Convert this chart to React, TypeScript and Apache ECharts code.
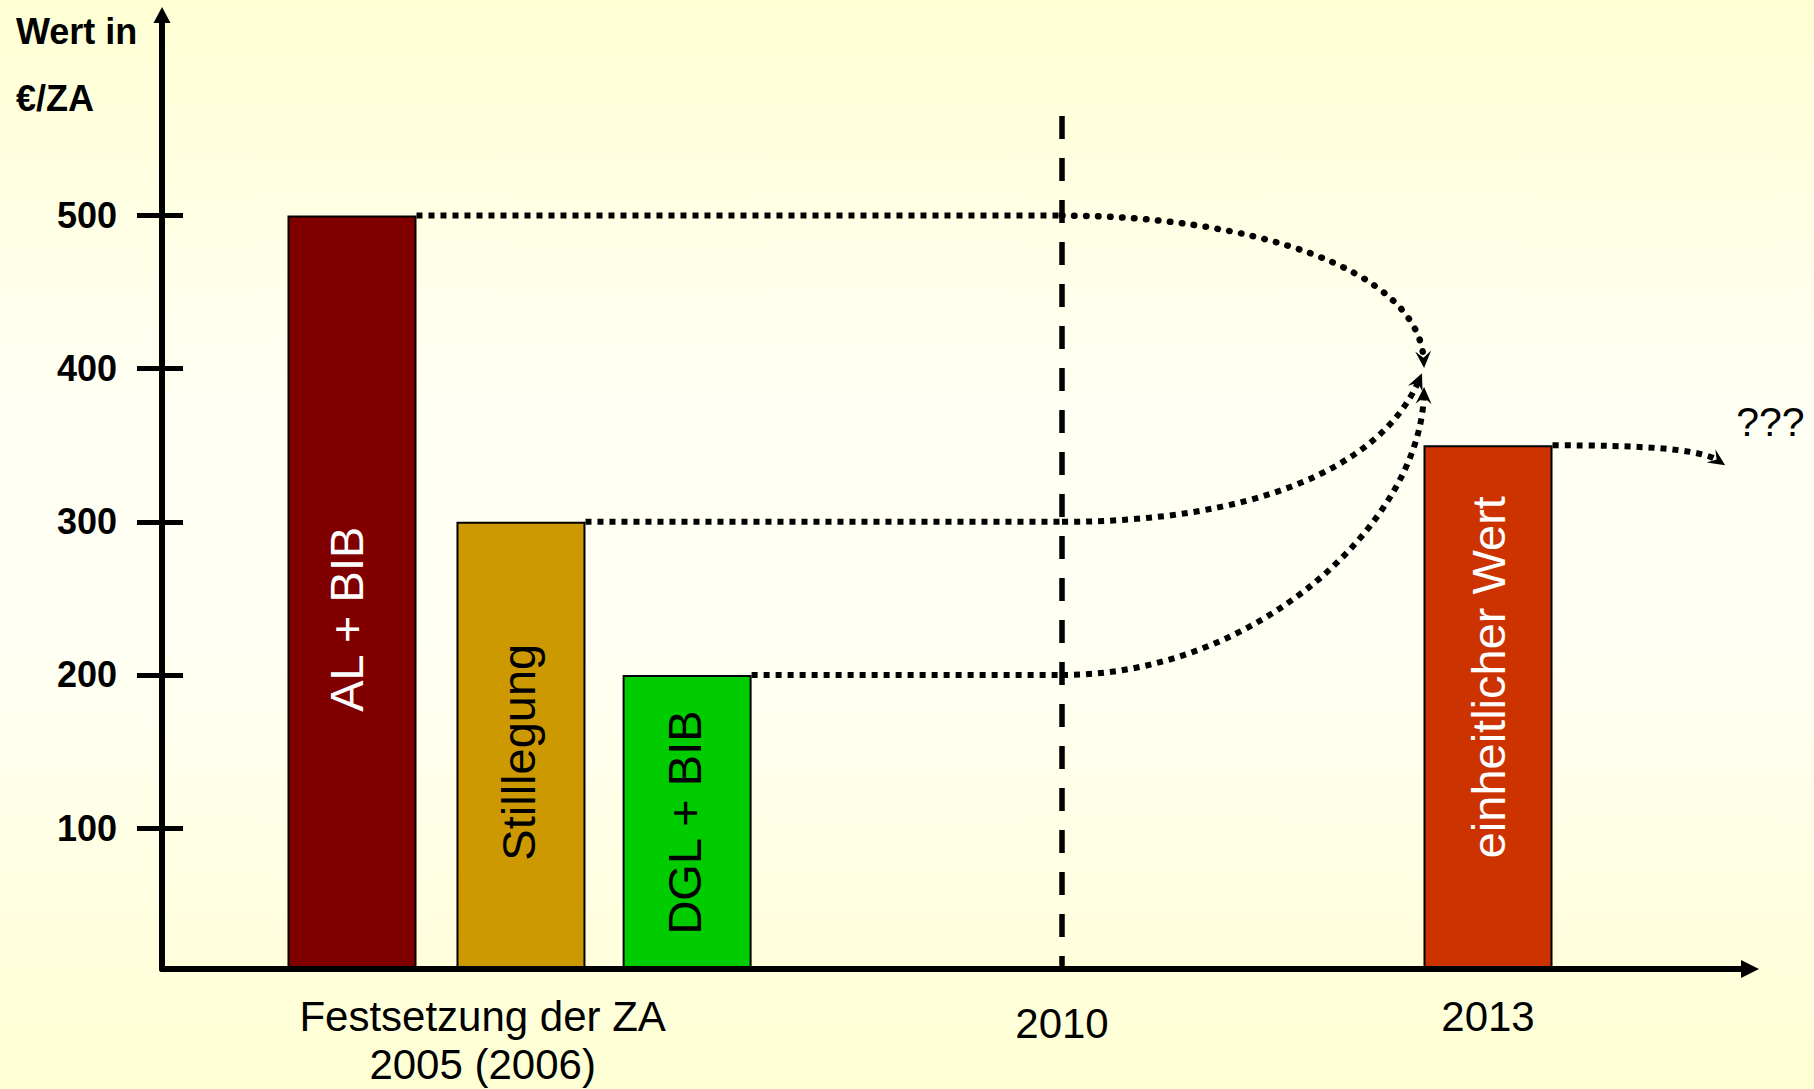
import React, { useEffect, useRef } from "react";
import * as echarts from "echarts";

// ---------- data ----------
const categories = ["AL + BIB", "Stilllegung", "DGL + BIB", "einheitlicher Wert"];
const barValues = [500, 300, 200, 350];
const barPositions = [2005, 2006.19, 2007.36, 2013];
const barColors = ["#800000", "#CC9900", "#00CC00", "#CC3300"];
const barLabelColors = ["#FFFFFF", "#000000", "#000000", "#FFFFFF"];

const yTicks = [100, 200, 300, 400, 500];
const xLabelValues = [2005.92, 2010, 2013];
const xLabelTexts = [["Festsetzung der ZA", "2005 (2006)"], ["2010"], ["2013"]];

const markerYear = 2010;
const markerTop = 565;

// connectors (annotation arrows): from bar, knee at 2010, bezier control points, end
const connectorFrom = [0, 1, 2, 3];
const connectorKnee = [2010, 2010, 2010, null];
const connectorCtrl1 = [[2011.3, 500], [2011.32, 300], [2011.39, 200], [2014.07, 350]];
const connectorCtrl2 = [[2012.51, 466], [2012.24, 334], [2012.52, 301], [2014.49, 348]];
const connectorEnd = [[2012.55, 400.5], [2012.535, 397], [2012.55, 388], [2014.67, 337]];
const connectorCurveDots = ["round", "square", "square", "square"];
const connectorNote = ["", "", "", "???"];

// ---------- layout / style ----------
const FONT = '"Liberation Sans", Arial, Helvetica, sans-serif';
const X_MIN = 2003.662;
const X_MAX = 2014.845;
const Y_MIN = 8;
const Y_MAX = 631;
const BAR_WIDTH = 129;
const barLabelPos = [
  ["45.7%", "53.5%"],
  ["48%", "51.4%"],
  ["48%", "50%"],
  ["50%", "44.2%"],
];

export default function App() {
  const ref = useRef<HTMLDivElement>(null);

  useEffect(() => {
    if (!ref.current) return;
    const chart = echarts.init(ref.current, null, { renderer: "svg", width: 1814, height: 1089 });

    const squareDots = { stroke: "#000", lineWidth: 6, lineDash: [6, 6], lineCap: "butt", fill: "none" };
    const roundDots = { stroke: "#000", lineWidth: 6.5, lineDash: [0.5, 11.5], lineCap: "round", fill: "none" };

    const option: any = {
      animation: false,
      backgroundColor: "transparent",
      grid: { left: 162, right: 64, top: 15, bottom: 120, containLabel: false },
      xAxis: {
        type: "value",
        min: X_MIN,
        max: X_MAX,
        z: 5,
        axisLine: {
          show: true,
          onZero: false,
          symbol: ["none", "triangle"],
          symbolSize: [18, 18],
          lineStyle: { color: "#000", width: 6 },
        },
        axisTick: { show: false },
        splitLine: { show: false },
        axisLabel: {
          customValues: xLabelValues,
          margin: 23,
          fontSize: 42,
          fontFamily: FONT,
          color: "#000",
          formatter: (v: number) => {
            let idx = 0;
            let best = Infinity;
            xLabelValues.forEach((x, i) => {
              const d = Math.abs(x - v);
              if (d < best) { best = d; idx = i; }
            });
            const key = idx === 1 ? "b" : "a";
            return xLabelTexts[idx].map((t) => `{${key}|${t}}`).join("\n");
          },
          rich: {
            a: { fontSize: 42, lineHeight: 48, fontFamily: FONT, color: "#000" },
            b: { fontSize: 42, lineHeight: 62, fontFamily: FONT, color: "#000" },
          },
        },
      },
      yAxis: [
        {
          type: "value",
          min: Y_MIN,
          max: Y_MAX,
          z: 5,
          position: "left",
          axisLine: {
            show: true,
            onZero: false,
            symbol: ["none", "triangle"],
            symbolSize: [17, 16],
            lineStyle: { color: "#000", width: 6 },
          },
          axisTick: { show: true, customValues: yTicks, length: 25, inside: false, lineStyle: { color: "#000", width: 5 } },
          axisLabel: {
            customValues: yTicks,
            margin: 45,
            fontSize: 36,
            fontWeight: "bold",
            color: "#000",
            fontFamily: FONT,
          },
          splitLine: { show: false },
        },
        {
          type: "value",
          min: Y_MIN,
          max: Y_MAX,
          z: 5,
          position: "left",
          offset: 0,
          axisLine: { show: false },
          axisTick: { show: true, customValues: yTicks, length: 21, inside: true, lineStyle: { color: "#000", width: 5 } },
          axisLabel: { show: false },
          splitLine: { show: false },
        },
      ],
      graphic: [
        {
          type: "text",
          x: 16,
          y: 31.5,
          style: { text: "Wert in", fontSize: 36, fontWeight: "bold", fontFamily: FONT, fill: "#000", verticalAlign: "middle" },
        },
        {
          type: "text",
          x: 16,
          y: 98.5,
          style: { text: "€/ZA", fontSize: 36, fontWeight: "bold", fontFamily: FONT, fill: "#000", verticalAlign: "middle" },
        },
      ],
      series: [
        {
          type: "bar",
          barWidth: BAR_WIDTH,
          xAxisIndex: 0,
          yAxisIndex: 0,
          encode: { x: 0, y: 1 },
          clip: true,
          data: categories.map((c, i) => ({
            name: c,
            value: [barPositions[i], barValues[i]],
            itemStyle: { color: barColors[i], borderColor: "#000", borderWidth: 2 },
            label: {
              show: true,
              position: barLabelPos[i],
              rotate: 90,
              align: "center",
              verticalAlign: "middle",
              color: barLabelColors[i],
              fontSize: 47,
              fontFamily: FONT,
              formatter: c,
            },
          })),
        },
        {
          type: "line",
          xAxisIndex: 0,
          yAxisIndex: 0,
          symbol: "none",
          data: [[markerYear, markerTop], [markerYear, Y_MIN]],
          lineStyle: { color: "#000", width: 5.5, type: [23, 19] },
          z: 3,
        },
        {
          type: "custom",
          xAxisIndex: 0,
          yAxisIndex: 0,
          data: connectorFrom.map((b, i) => [barPositions[b], barValues[b], connectorEnd[i][0], connectorEnd[i][1]]),
          encode: { x: [0, 2], y: [1, 3] },
          z: 4,
          renderItem: (params: any, api: any) => {
            const i = params.dataIndex;
            const b = connectorFrom[i];
            const start = api.coord([barPositions[b], barValues[b]]);
            start[0] += BAR_WIDTH / 2;
            const kneeX = connectorKnee[i];
            const knee = kneeX != null ? api.coord([kneeX, barValues[b]]) : start;
            const c1 = api.coord(connectorCtrl1[i]);
            const c2 = api.coord(connectorCtrl2[i]);
            const end = api.coord(connectorEnd[i]);
            const children: any[] = [];
            if (kneeX != null) {
              children.push({
                type: "line",
                shape: { x1: start[0], y1: start[1], x2: knee[0], y2: knee[1] },
                style: squareDots,
              });
            }
            let dx = end[0] - c2[0];
            let dy = end[1] - c2[1];
            const len = Math.hypot(dx, dy) || 1;
            dx /= len;
            dy /= len;
            const nx = -dy;
            const ny = dx;
            const L = 17;
            const W = 8;
            const curveEnd = [end[0] - dx * 8, end[1] - dy * 8];
            children.push({
              type: "bezierCurve",
              shape: {
                x1: knee[0], y1: knee[1],
                cpx1: c1[0], cpy1: c1[1],
                cpx2: c2[0], cpy2: c2[1],
                x2: curveEnd[0], y2: curveEnd[1],
              },
              style: connectorCurveDots[i] === "round" ? roundDots : squareDots,
            });
            children.push({
              type: "polygon",
              shape: {
                points: [
                  [end[0], end[1]],
                  [end[0] - L * dx + W * nx, end[1] - L * dy + W * ny],
                  [end[0] - 0.6 * L * dx, end[1] - 0.6 * L * dy],
                  [end[0] - L * dx - W * nx, end[1] - L * dy - W * ny],
                ],
              },
              style: { fill: "#000", stroke: "none" },
            });
            if (connectorNote[i]) {
              children.push({
                type: "text",
                x: end[0] + 11,
                y: end[1] - 43,
                style: {
                  text: connectorNote[i],
                  fontSize: 41,
                  fontFamily: FONT,
                  fill: "#000",
                  align: "left",
                  verticalAlign: "middle",
                },
              });
            }
            return { type: "group", children };
          },
        },
      ],
    };

    chart.setOption(option);
    return () => chart.dispose();
  }, []);

  return (
    <div
      ref={ref}
      style={{
        position: "absolute",
        left: 0,
        top: 0,
        width: 1814,
        height: 1089,
        background: "linear-gradient(to bottom, #FFFFD4 0%, #FFFFF4 38%, #FFFFF4 58%, #FFFFD4 100%)",
      }}
    />
  );
}
